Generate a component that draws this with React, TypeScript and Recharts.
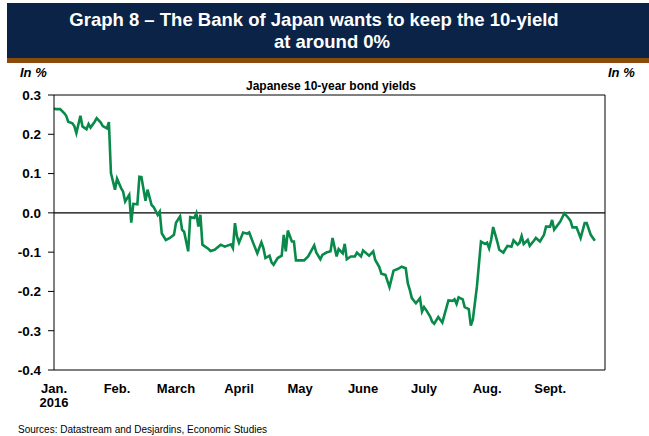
import { LineChart, Line, XAxis, YAxis, ReferenceLine } from "recharts"

// days counted from Jan. 1, 2016
const days = [
  0, 1, 3, 5, 6, 7, 9, 10, 11, 13, 14, 16, 17, 18, 20, 21, 23, 24, 26, 27,
  28, 30, 31, 33, 34, 35, 37, 38, 39, 41, 42, 43, 45, 46, 48, 49, 51, 52, 53, 55,
  57, 59, 60, 62, 63, 64, 66, 67, 69, 70, 71, 72, 73, 76, 77, 79, 82, 84, 87, 88,
  89, 90, 91, 93, 95, 96, 98, 100, 102, 103, 104, 106, 107, 108, 110, 112, 113, 114, 115, 117,
  118, 119, 121, 123, 125, 128, 129, 131, 132, 134, 136, 137, 139, 140, 142, 143, 144, 146, 148, 149,
  151, 152, 155, 157, 158, 160, 161, 163, 165, 167, 169, 171, 173, 174, 175, 176, 178, 180, 181, 182,
  183, 185, 186, 187, 189, 191, 194, 196, 197, 198, 199, 201, 202, 204, 205, 206, 208, 210, 212, 213,
  214, 215, 216, 218, 219, 221, 223, 225, 226, 228, 229, 230, 231, 233, 234, 236, 237, 239, 241, 242,
  244, 245, 246, 249, 251, 253, 254, 255, 257, 259, 261, 262, 264, 266,
]

const yields = [
  0.266, 0.264, 0.264, 0.254, 0.247, 0.232, 0.228, 0.221, 0.203, 0.247, 0.22, 0.213, 0.226, 0.217, 0.232, 0.241, 0.23, 0.221, 0.215, 0.231,
  0.101, 0.059, 0.087, 0.063, 0.054, 0.029, 0.046, -0.025, 0.023, 0.022, 0.092, 0.091, 0.031, 0.059, 0.02, 0.015, -0.005, 0.003, -0.052, -0.069,
  -0.064, -0.056, -0.025, -0.009, -0.043, -0.048, -0.098, -0.011, -0.013, -0.001, -0.035, -0.005, -0.081, -0.092, -0.097, -0.094, -0.081, -0.086, -0.08, -0.09,
  -0.026, -0.06, -0.076, -0.05, -0.053, -0.05, -0.077, -0.103, -0.075, -0.09, -0.115, -0.109, -0.126, -0.132, -0.115, -0.109, -0.056, -0.098, -0.045, -0.073,
  -0.073, -0.121, -0.121, -0.121, -0.111, -0.083, -0.101, -0.118, -0.107, -0.101, -0.098, -0.064, -0.111, -0.092, -0.103, -0.079, -0.118, -0.111, -0.111, -0.101,
  -0.111, -0.096, -0.109, -0.098, -0.12, -0.138, -0.155, -0.158, -0.189, -0.147, -0.143, -0.137, -0.141, -0.179, -0.196, -0.217, -0.23, -0.217, -0.251, -0.24,
  -0.247, -0.264, -0.277, -0.282, -0.265, -0.279, -0.223, -0.224, -0.22, -0.232, -0.215, -0.22, -0.24, -0.245, -0.287, -0.272, -0.188, -0.073, -0.079, -0.076,
  -0.09, -0.069, -0.036, -0.073, -0.094, -0.101, -0.084, -0.086, -0.07, -0.081, -0.076, -0.059, -0.079, -0.069, -0.084, -0.071, -0.064, -0.073, -0.056, -0.035,
  -0.035, -0.018, -0.043, -0.022, -0.001, -0.013, -0.02, -0.037, -0.037, -0.064, -0.026, -0.026, -0.056, -0.071,
]

const monthStarts = [0, 31, 60, 91, 121, 152, 182, 213, 244]
const monthLabels = ["Jan.", "Feb.", "March", "April", "May", "June", "July", "Aug.", "Sept."]
const yTicks = [-0.4, -0.3, -0.2, -0.1, 0, 0.1, 0.2, 0.3]

const data = days.map((d, i) => ({ day: d, value: yields[i] }))

const font = "'Liberation Sans', Arial, sans-serif"

const MonthTick = (props: any) => {
  const { x, y, payload } = props
  const i = monthStarts.indexOf(payload.value)
  return (
    <g transform={`translate(${x},${y})`}>
      <text textAnchor="middle" dy={15} fontSize={13} fontWeight="bold" fill="#000" fontFamily={font}>
        {monthLabels[i]}
      </text>
      {i === 0 && (
        <text textAnchor="middle" dy={29} fontSize={13} fontWeight="bold" fill="#000" fontFamily={font}>
          2016
        </text>
      )}
    </g>
  )
}

const tickStyle = { fill: "#000", fontSize: 13.5, fontWeight: "bold", fontFamily: font }

export default function App() {
  return (
    <div style={{ position: "relative", width: 649, height: 436, background: "#fff", fontFamily: font, overflow: "hidden" }}>
      <style>{"body{margin:0}"}</style>
      <div style={{ position: "absolute", left: 7, top: 3, width: 642, height: 55, background: "#0b2347" }} />
      <div style={{ position: "absolute", left: 7, top: 58, width: 642, height: 5, background: "#8a4a0c" }} />
      <div style={{ position: "absolute", left: 0, width: 628, top: 9, textAlign: "center", color: "#fff", fontWeight: "bold", fontSize: 18.5, lineHeight: "21px" }}>
        Graph 8 – The Bank of Japan wants to keep the 10-yield
      </div>
      <div style={{ position: "absolute", left: 0, width: 664, top: 31, textAlign: "center", color: "#fff", fontWeight: "bold", fontSize: 18.5, lineHeight: "21px" }}>
        at around 0%
      </div>
      <div style={{ position: "absolute", left: 20, top: 65, fontWeight: "bold", fontStyle: "italic", fontSize: 13 }}>In %</div>
      <div style={{ position: "absolute", left: 608, top: 65, fontWeight: "bold", fontStyle: "italic", fontSize: 13 }}>In %</div>
      <div style={{ position: "absolute", left: 0, width: 662, top: 79, textAlign: "center", fontWeight: "bold", fontSize: 12 }}>
        Japanese 10-year bond yields
      </div>
      <div style={{ position: "absolute", left: 18, top: 424, fontSize: 10 }}>
        Sources: Datastream and Desjardins, Economic Studies
      </div>
      <div style={{ position: "absolute", left: 0, top: 0 }}>
        <LineChart width={649} height={436} data={data} margin={{ top: 95, right: 0, bottom: 36, left: 0 }}>
          <XAxis
            dataKey="day"
            type="number"
            domain={[0, 271]}
            ticks={monthStarts}
            interval={0}
            tick={<MonthTick />}
            tickLine={false}
            tickSize={6}
            tickMargin={2}
            height={30}
            axisLine={{ stroke: "#000", strokeWidth: 1 }}
          />
          <YAxis
            yAxisId="left"
            orientation="left"
            width={54}
            domain={[-0.4, 0.3]}
            ticks={yTicks}
            interval={0}
            tickFormatter={(v: number) => v.toFixed(1)}
            tick={tickStyle}
            tickSize={6}
            tickMargin={7}
            axisLine={{ stroke: "#000" }}
            tickLine={{ stroke: "#000" }}
          />
          <YAxis
            yAxisId="right"
            orientation="right"
            width={44}
            domain={[-0.4, 0.3]}
            ticks={yTicks}
            interval={0}
            tickFormatter={(v: number) => v.toFixed(1)}
            tick={{ ...tickStyle, textAnchor: "start" }}
            tickSize={6}
            tickMargin={2}
            axisLine={{ stroke: "#000" }}
            tickLine={{ stroke: "#000" }}
          />
          <ReferenceLine yAxisId="left" y={0.3} stroke="#000" strokeWidth={1} />
          <ReferenceLine yAxisId="left" y={0} stroke="#000" strokeWidth={1.3} />
          <Line
            yAxisId="left"
            dataKey="value"
            type="linear"
            stroke="#0a8a4a"
            strokeWidth={2.6}
            dot={false}
            isAnimationActive={false}
          />
        </LineChart>
      </div>
    </div>
  )
}
